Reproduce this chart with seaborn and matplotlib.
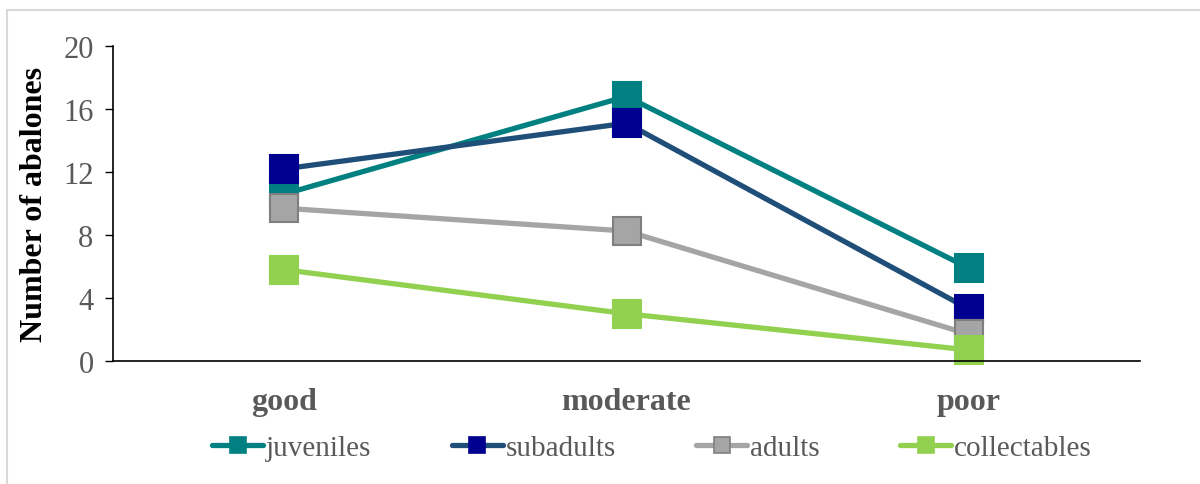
import matplotlib
matplotlib.use("Agg")
import matplotlib.pyplot as plt
import seaborn as sns
import pandas as pd
from matplotlib.lines import Line2D

# Habitat condition categories and abalone counts per size class
conditions = ["good", "moderate", "poor"]
juveniles = [10.6, 16.8, 5.9]
subadults = [12.2, 15.1, 3.3]
adults = [9.7, 8.25, 1.7]
collectables = [5.8, 3.0, 0.7]

series_names = ["juveniles", "subadults", "adults", "collectables"]
series_values = [juveniles, subadults, adults, collectables]
y_ticks = [0, 4, 8, 12, 16, 20]

line_colors = ["#008080", "#1F4E79", "#A5A5A5", "#92D050"]
marker_faces = ["#008080", "#000090", "#A5A5A5", "#92D050"]
marker_edges = ["#008080", "#000090", "#7F7F7F", "#92D050"]

rows = []
for name, vals in zip(series_names, series_values):
    for i, (cond, v) in enumerate(zip(conditions, vals)):
        rows.append({"pos": i, "condition": cond, "count": v, "group": name})
df = pd.DataFrame(rows)

sns.set_theme(style="white")
plt.rcParams["font.family"] = ["Liberation Serif", "DejaVu Serif"]

fig = plt.figure(figsize=(12, 4.85), dpi=100)
ax = fig.add_axes([113 / 1200, 1 - 362 / 485, (1140 - 113) / 1200, (362 - 47) / 485])

for name, lc, mf, me in zip(series_names, line_colors, marker_faces, marker_edges):
    sub = df[df["group"] == name]
    sns.lineplot(data=sub, x="pos", y="count", ax=ax, color=lc, linewidth=3.8,
                 marker="s", markersize=20, markerfacecolor=mf,
                 markeredgecolor=me, markeredgewidth=1.5, legend=False,
                 clip_on=False)

ax.set_xlim(-0.5, 2.5)
ax.set_ylim(0, 20)
ax.set_yticks(y_ticks)
ax.set_yticklabels([str(t) for t in y_ticks], fontsize=22, color="#595959")
ax.set_xticks(range(len(conditions)))
ax.set_xticklabels(conditions, fontsize=23, fontweight="bold", color="#595959")
ax.tick_params(axis="x", length=0, pad=19)
ax.tick_params(axis="y", left=True, length=6, width=1, color="#000000", pad=8,
               direction="out")
ax.set_xlabel("")
ax.set_ylabel("Number of abalones", fontsize=23, fontweight="bold",
              color="black", labelpad=10)

for side in ["top", "right"]:
    ax.spines[side].set_visible(False)
for side in ["left", "bottom"]:
    ax.spines[side].set_color("black")
    ax.spines[side].set_linewidth(1.2)

handles = [
    Line2D([0], [0], color=lc, linewidth=3.8, marker="s", markersize=12,
           markerfacecolor=mf, markeredgecolor=me, markeredgewidth=1.2)
    for lc, mf, me in zip(line_colors, marker_faces, marker_edges)
]
leg = fig.legend(handles, series_names, loc="center",
                 bbox_to_anchor=(652 / 1200, 1 - 449 / 485), ncol=4,
                 frameon=False, fontsize=21, handlelength=1.75,
                 handletextpad=0.1, columnspacing=2.75)
for t in leg.get_texts():
    t.set_color("#595959")

# Chart area border
fig.add_artist(Line2D([7 / 1200, 1.0], [1 - 11 / 485, 1 - 11 / 485],
                      transform=fig.transFigure, color="#D9D9D9", linewidth=1.5))
fig.add_artist(Line2D([7 / 1200, 7 / 1200], [0.0, 1 - 11 / 485],
                      transform=fig.transFigure, color="#D9D9D9", linewidth=1.5))

fig.savefig("out.png", dpi=100, facecolor="white")
